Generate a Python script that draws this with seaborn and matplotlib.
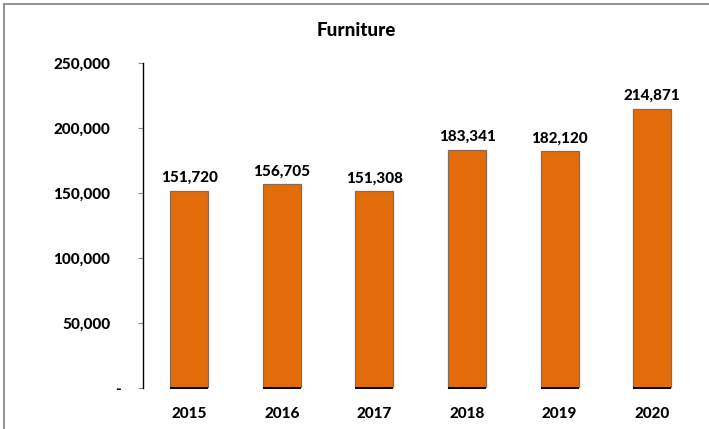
import matplotlib
matplotlib.use("Agg")
import matplotlib.pyplot as plt
from matplotlib.lines import Line2D
from matplotlib.transforms import ScaledTranslation
import seaborn as sns
import pandas as pd

years = ["2015", "2016", "2017", "2018", "2019", "2020"]
sales = [151720, 156705, 151308, 183341, 182120, 214871]
y_ticks = [0, 50000, 100000, 150000, 200000, 250000]
title = "Furniture"

sns.set_style("white")
plt.rcParams["font.family"] = ["Lato", "DejaVu Sans"]
WEIGHT = 900

df = pd.DataFrame({"year": years, "sales": sales})

fig = plt.figure(figsize=(7.09, 4.29), dpi=100)
ax = fig.add_axes([143 / 709, 1 - 388 / 429, (698.5 - 143) / 709, (388 - 63) / 429])

sns.barplot(data=df, x="year", y="sales", color="#E36C0A", saturation=1,
            width=0.41, edgecolor="#8a6a55", linewidth=0.9, ax=ax)

# dark base line under each bar
for p in ax.patches:
    ax.plot([p.get_x(), p.get_x() + p.get_width()], [0, 0], color="black",
            lw=1.4, solid_capstyle="butt", zorder=5, clip_on=False)

# value labels
for p, v in zip(ax.patches, sales):
    ax.annotate(f"{v:,}", (p.get_x() + p.get_width() / 2, v),
                xytext=(0, 4), textcoords="offset points",
                ha="center", va="bottom", fontsize=11, fontweight=WEIGHT,
                color="black")

ax.set_xlim(-0.5, len(years) - 0.5)
ax.set_ylim(0, 250000)
ax.set_yticks(y_ticks)
ax.set_yticklabels([f"{t:,}" if t else "-" for t in y_ticks])
ax.set_xlabel("")
ax.set_ylabel("")

for side in ("top", "right", "bottom"):
    ax.spines[side].set_visible(False)
ax.spines["left"].set_color("black")
ax.spines["left"].set_linewidth(1.0)

ax.tick_params(axis="y", which="major", left=True, length=3.6, width=0.8,
               color="#8c8c8c", pad=20, labelsize=11, labelcolor="black")
ax.tick_params(axis="x", length=0, pad=14, labelsize=11, labelcolor="black")
for lbl in ax.get_xticklabels() + ax.get_yticklabels():
    lbl.set_fontweight(WEIGHT)

# the zero label sits closer to the axis (accounting-style dash)
zero_lbl = ax.get_yticklabels()[0]
zero_lbl.set_transform(zero_lbl.get_transform()
                       + ScaledTranslation(11 / 100, 0, fig.dpi_scale_trans))

fig.text(356 / 709, 1 - 31 / 429, title, ha="center", va="center",
         fontsize=13.5, fontweight=WEIGHT, color="black")

# chart frame (top and left edges)
fig.add_artist(Line2D([4 / 709, 1], [1 - 4 / 429, 1 - 4 / 429],
                      transform=fig.transFigure, color="#7f7f7f", lw=1.2))
fig.add_artist(Line2D([4 / 709, 4 / 709], [0, 1 - 4 / 429],
                      transform=fig.transFigure, color="#7f7f7f", lw=1.2))

fig.savefig("out.png", dpi=100)
